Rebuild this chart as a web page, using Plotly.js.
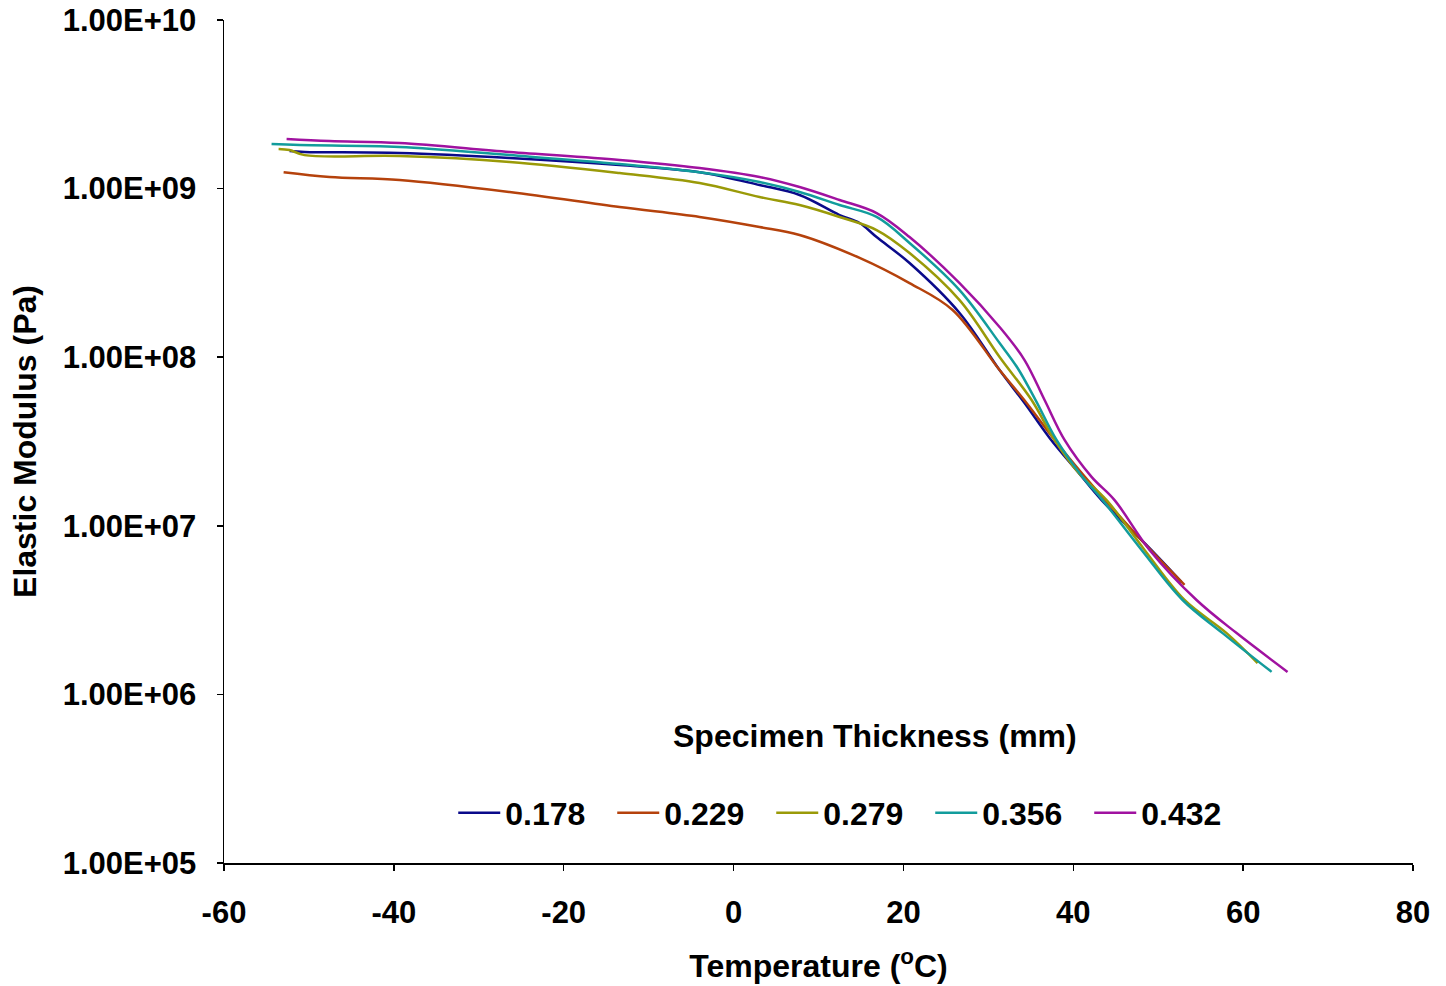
<!DOCTYPE html>
<html>
<head>
<meta charset="utf-8">
<script src="https://cdn.plot.ly/plotly-3.0.1.min.js"></script>
<style>html,body{margin:0;padding:0;background:#fff;}#chart{width:1446px;height:986px;}</style>
</head>
<body>
<div id="chart"></div>
<script>
// Series names (specimen thickness, mm)
const seriesNames = ["0.178", "0.229", "0.279", "0.356", "0.432"];

// Temperature (°C) and elastic modulus (Pa) for each series
const temp178 = [-52.28, -50.51, -39.33, -26.37, -13.42, -4.00, 3.06, 7.77, 12.48, 14.84, 16.84, 20.72, 26.61, 31.32, 34.26, 37.21, 40.74, 43.33, 48.98, 52.75];
const mod178  = [1.67e9, 1.65e9, 1.626e9, 1.52e9, 1.38e9, 1.25e9, 1.05e9, 9.16e8, 6.97e8, 6.25e8, 5.16e8, 3.62e8, 1.83e8, 8.39e7, 5.35e7, 3.32e7, 2.03e7, 1.42e7, 7.38e6, 4.64e6];

const temp229 = [-52.98, -47.57, -39.33, -26.37, -13.42, -4.00, 3.06, 7.77, 14.84, 20.72, 25.79, 31.32, 34.50, 37.80, 41.09, 43.56, 48.98, 53.10];
const mod229  = [1.25e9, 1.172e9, 1.125e9, 9.55e8, 7.78e8, 6.79e8, 5.92e8, 5.31e8, 3.88e8, 2.75e8, 1.905e8, 8.39e7, 5.35e7, 3.23e7, 2.03e7, 1.46e7, 7.29e6, 4.46e6];

const temp279 = [-53.57, -52.28, -50.51, -39.33, -26.37, -13.42, -4.00, 3.06, 7.77, 12.48, 16.84, 20.72, 26.61, 31.32, 35.09, 37.80, 40.74, 43.92, 48.39, 53.10, 58.05, 61.70];
const mod279  = [1.72e9, 1.694e9, 1.58e9, 1.56e9, 1.44e9, 1.237e9, 1.08e9, 8.92e8, 7.99e8, 6.79e8, 5.68e8, 4.15e8, 2.18e8, 1.003e8, 5.57e7, 3.23e7, 2.03e7, 1.42e7, 7.19e6, 3.63e6, 2.31e6, 1.535e6];

const temp356 = [-54.40, -51.10, -39.33, -26.37, -13.42, -4.00, 3.06, 7.77, 12.48, 16.84, 20.72, 26.61, 31.32, 33.44, 35.56, 38.03, 41.09, 43.45, 48.04, 52.87, 57.58, 63.35];
const mod356  = [1.84e9, 1.814e9, 1.766e9, 1.58e9, 1.40e9, 1.25e9, 1.094e9, 9.55e8, 7.99e8, 6.79e8, 4.76e8, 2.50e8, 1.214e8, 8.63e7, 5.57e7, 3.23e7, 1.95e7, 1.42e7, 7.19e6, 3.63e6, 2.31e6, 1.36e6];

const temp432 = [-52.63, -47.57, -39.33, -26.37, -13.42, -4.00, 3.06, 7.77, 12.48, 16.84, 20.72, 26.61, 31.32, 34.26, 36.62, 38.97, 42.15, 44.86, 48.98, 54.51, 59.23, 65.23];
const mod432  = [1.97e9, 1.915e9, 1.865e9, 1.65e9, 1.479e9, 1.325e9, 1.172e9, 1.022e9, 8.56e8, 7.16e8, 5.16e8, 2.75e8, 1.51e8, 9.62e7, 5.57e7, 3.23e7, 1.95e7, 1.42e7, 7.19e6, 3.63e6, 2.31e6, 1.36e6];

// Axis ticks
const yTickVals = [1e5, 1e6, 1e7, 1e8, 1e9, 1e10];
const yTickText = ["1.00E+05", "1.00E+06", "1.00E+07", "1.00E+08", "1.00E+09", "1.00E+10"];
const xTickVals = [-60, -40, -20, 0, 20, 40, 60, 80];
const xTickText = ["-60", "-40", "-20", "0", "20", "40", "60", "80"];

const colors = ["#0a0a8a", "#b5420c", "#9a9a08", "#129c9c", "#a012a0"];
const temps = [temp178, temp229, temp279, temp356, temp432];
const mods = [mod178, mod229, mod279, mod356, mod432];

const FONT = "Liberation Sans, Arial, sans-serif";
const FS_TICK = 31;
const FS_TITLE = 32;

const traces = seriesNames.map((n, i) => ({
  x: temps[i], y: mods[i], name: n, type: "scatter", mode: "lines",
  line: {color: colors[i], width: 2.5, shape: "spline", smoothing: 1.0}
}));

const layout = {
  width: 1446, height: 986,
  margin: {l: 224, r: 33, t: 20, b: 123},
  paper_bgcolor: "#fff", plot_bgcolor: "#fff",
  font: {family: FONT, size: FS_TICK, color: "#000"},
  showlegend: true,
  xaxis: {
    range: [-60, 80], tickvals: xTickVals, ticktext: xTickText, ticks: "outside", ticklen: 6, tickwidth: 1.5, tickcolor: "#000",
    showline: true, linecolor: "#000", linewidth: 1.5, showgrid: false, zeroline: false,
    tickfont: {family: FONT, size: FS_TICK, weight: "bold"}, ticklabelstandoff: 15,
    title: {text: "Temperature (<sup>o</sup>C)", font: {family: FONT, size: FS_TITLE, weight: "bold"}, standoff: 26}
  },
  yaxis: {
    type: "log", range: [5, 10], tickvals: yTickVals, ticktext: yTickText,
    ticks: "outside", ticklen: 6, tickwidth: 1.5, tickcolor: "#000",
    showline: true, linecolor: "#000", linewidth: 1.5, showgrid: false, zeroline: false,
    tickfont: {family: FONT, size: FS_TICK, weight: "bold"}, ticklabelstandoff: 14,
    title: {text: "Elastic Modulus (Pa)", font: {family: FONT, size: FS_TITLE, weight: "bold"}, standoff: 16}
  },
  legend: {
    orientation: "h", x: 0.1928, y: 0.0593, xanchor: "left", yanchor: "middle",
    font: {family: FONT, size: FS_TITLE, weight: "bold"}, bgcolor: "rgba(0,0,0,0)",
    itemwidth: 42, entrywidth: 102, entrywidthmode: "pixels"
  },
  annotations: [{
    text: "Specimen Thickness (mm)", xref: "paper", yref: "paper", x: 0.5475, y: 0.1507,
    xanchor: "center", yanchor: "middle", showarrow: false,
    font: {family: FONT, size: FS_TITLE, weight: "bold"}
  }]
};

Plotly.newPlot("chart", traces, layout, {displayModeBar: false, staticPlot: true});
</script>
</body>
</html>
